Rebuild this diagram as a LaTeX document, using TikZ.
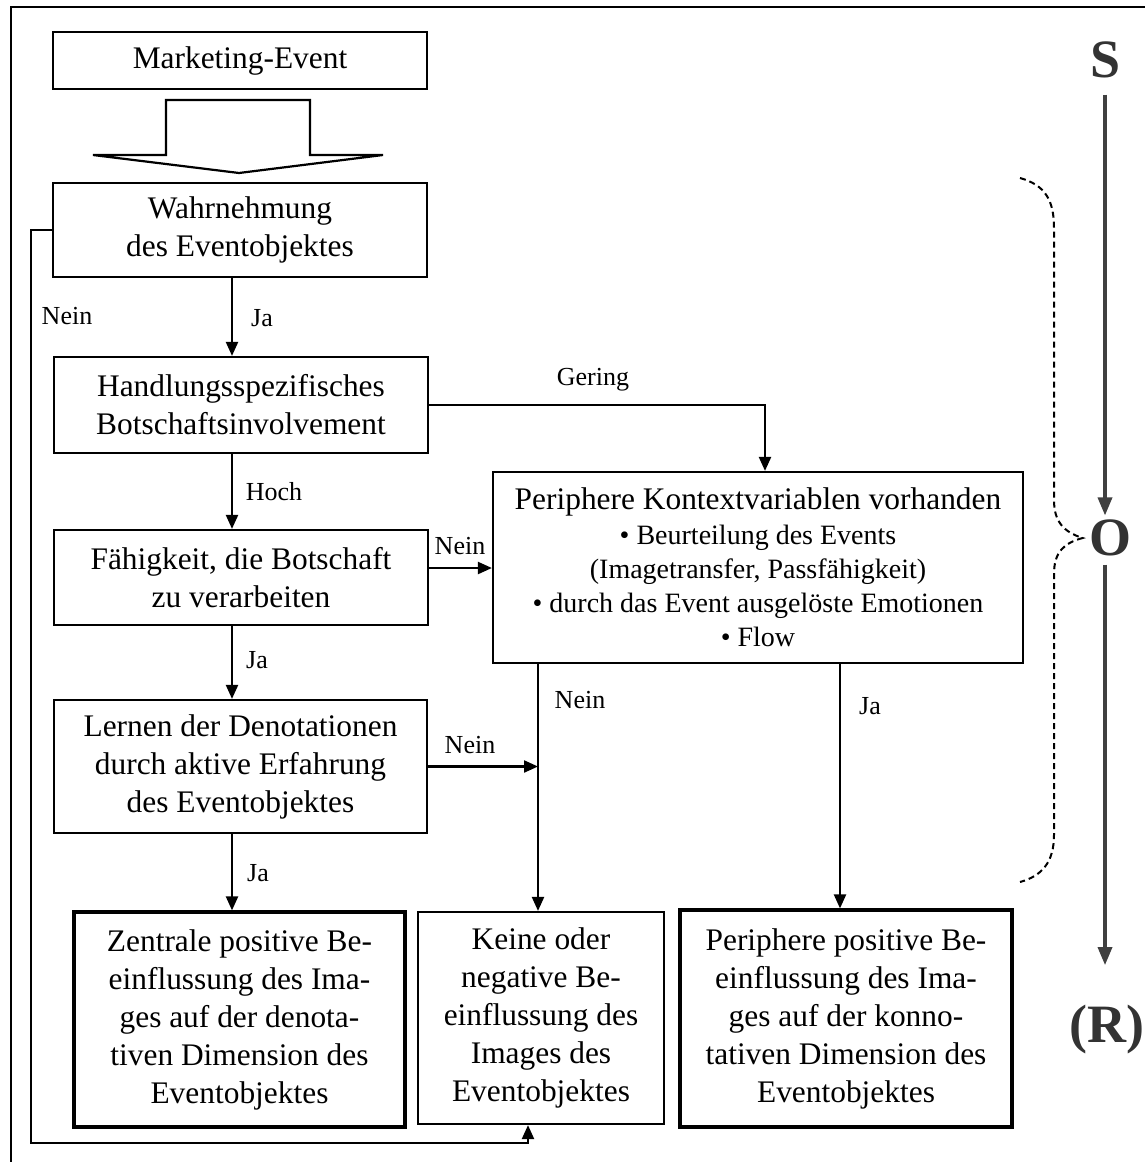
\documentclass[tikz,border=0pt]{standalone}
\usepackage{fontspec}
\setmainfont{Liberation Serif}
\usetikzlibrary{arrows.meta}
\begin{document}
\begin{tikzpicture}[x=0.5pt,y=-0.5pt,
  box/.style={draw, line width=1.1pt, rectangle, inner sep=0pt, align=center,
    font=\fontsize{15.7}{19}\selectfont},
  endbox/.style={box, line width=1.6pt},
  lbl/.style={font=\fontsize{13}{15}\selectfont, inner sep=0pt},
  conn/.style={line width=1.1pt},
  arr/.style={conn, -{Triangle[length=7pt,width=6pt]}},
  srlbl/.style={font=\fontsize{27}{30}\selectfont\bfseries, text=black!80, inner sep=0pt},
  srarr/.style={line width=1.7pt, draw=black!75, -{Triangle[length=9pt,width=7pt]}},
  brace/.style={line width=1pt, dash pattern=on 3pt off 2pt},
]
\useasboundingbox (0,0) rectangle (1145,1162);

% outer frame (left and top edges)
\draw[line width=1pt] (11,1162) -- (11,7) -- (1145,7);

% column and row guides for the connectors
\coordinate (colA) at (232,0);
\coordinate (colG) at (765,0);
\coordinate (colN) at (538,0);
\coordinate (colJ) at (840,0);
\coordinate (colK) at (528,0);
\coordinate (colS) at (1105,0);
\coordinate (rowF) at (0,568);
\coordinate (fbL) at (31,1143);

% process boxes
\node[box, minimum width=187pt, minimum height=28.5pt] (mkt) at (240,60.5) {Marketing-Event};
\node[box, minimum width=187pt, minimum height=47pt] (wahr) at (240,230)
  {Wahrnehmung\\des Eventobjektes};
\node[box, minimum width=187pt, minimum height=48pt] (hand) at (241,405)
  {Handlungsspezifisches\\Botschaftsinvolvement};
\node[box, minimum width=187pt, minimum height=47.5pt] (faeh) at (241,577.5)
  {Fähigkeit, die Botschaft\\zu verarbeiten};
\node[box, minimum width=186.5pt, minimum height=66.5pt] (lernen) at (240.5,766.5)
  {Lernen der Denotationen\\durch aktive Erfahrung\\des Eventobjektes};
\node[box, minimum width=265pt, minimum height=95.5pt,
      font=\fontsize{14}{17}\selectfont] (kontext) at (758,567.5)
  {{\fontsize{15.7}{19}\selectfont Periphere Kontextvariablen vorhanden}\\[0.5pt]
   • Beurteilung des Events\\
   (Imagetransfer, Passfähigkeit)\\
   • durch das Event ausgelöste Emotionen\\
   • Flow};

% result boxes
\node[endbox, minimum width=165.5pt, minimum height=107.5pt] (zentral) at (239.5,1019.5)
  {Zentrale positive Be-\\einflussung des Ima-\\ges auf der denota-\\tiven Dimension des\\Eventobjektes};
\node[box, minimum width=123pt, minimum height=106pt] (keine) at (541,1018)
  {Keine oder\\negative Be-\\einflussung des\\Images des\\Eventobjektes};
\node[endbox, minimum width=166pt, minimum height=108.5pt] (periph) at (846,1018.5)
  {Periphere positive Be-\\einflussung des Ima-\\ges auf der konno-\\tativen Dimension des\\Eventobjektes};

% block arrow from the event to its perception
\draw[line width=1.1pt, fill=white]
  (166,100) -- (310,100) -- (310,155) -- (383,155) -- (239,173)
  -- (93,155) -- (166,155) -- cycle;

% connectors
\draw[arr] (wahr.south -| colA) -- (hand.north -| colA);
\draw[arr] (hand.east) -| (kontext.north -| colG);
\draw[arr] (hand.south -| colA) -- (faeh.north -| colA);
\draw[arr] (faeh.east |- rowF) -- (kontext.west |- rowF);
\draw[arr] (faeh.south -| colA) -- (lernen.north -| colA);
\draw[arr] (lernen.east) -- (lernen.east -| colN);
\draw[arr] (lernen.south -| colA) -- (zentral.north -| colA);
\draw[arr] (kontext.south -| colN) -- (keine.north -| colN);
\draw[arr] (kontext.south -| colJ) -- (periph.north -| colJ);
\draw[arr] (wahr.west) -| (fbL) -| (keine.south -| colK);

% connector labels
\node[lbl] (lNein1) at (67,316) {Nein};
\node[lbl] (lJa1) at (262,318) {Ja};
\node[lbl] (lGering) at (593,380) {Gering};
\node[lbl] (lHoch) at (274,492) {Hoch};
\node[lbl] (lNein2) at (460,546) {Nein};
\node[lbl] (lJa2) at (257,660) {Ja};
\node[lbl] (lNein3) at (470,745) {Nein};
\node[lbl] (lNein4) at (580,700) {Nein};
\node[lbl] (lJa3) at (870,706) {Ja};
\node[lbl] (lJa4) at (258,873) {Ja};

% S-O-R axis
\node[srlbl] (S) at (1106,60) {S};
\node[srlbl] (O) at (1110,538) {O};
\node[srlbl] (R) at (1107,1030) {(R)};
\draw[srarr, shorten <=8pt, shorten >=2pt] (S.south -| colS) -- (O.north -| colS);
\draw[srarr, shorten <=4pt, shorten >=20pt] (O.south -| colS) -- (R.north -| colS);

% dashed brace marking the organism stage
\coordinate (btip) at ([xshift=-3pt]O.west);
\draw[brace] (1020,178) .. controls (1045,185) and (1054,200) .. (1054,228)
  -- (1054,500) .. controls (1054,522) and (1064,532) .. (btip)
  .. controls (1064,543) and (1054,552) .. (1054,574)
  -- (1054,835) .. controls (1054,862) and (1042,876) .. (1020,882);
\end{tikzpicture}
\end{document}
